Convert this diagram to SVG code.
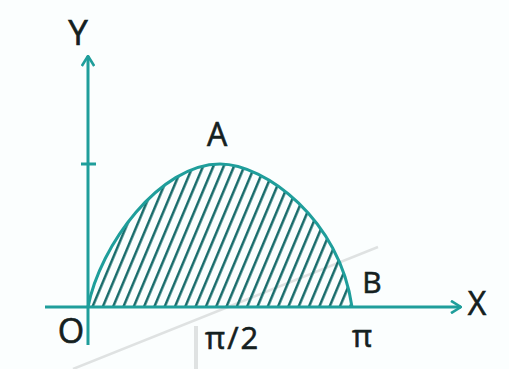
<svg xmlns="http://www.w3.org/2000/svg" width="509" height="369" viewBox="0 0 509 369">
<style>
.axis{stroke:#1f9e9b;stroke-width:3;fill:none}
.curve{stroke:#1f9e9b;stroke-width:3;fill:none}
.lbl{font-family:"Open Sans","Liberation Sans",sans-serif;fill:#142020;stroke:#142020;stroke-width:0.6}
.wm{stroke:#dfe2e2;fill:none}
</style>
<defs>
<pattern id="hatch" patternUnits="userSpaceOnUse" width="9.5" height="20" patternTransform="translate(91,307) rotate(22.8)">
<line x1="1.3" y1="-1" x2="1.3" y2="21" stroke="#0d6564" stroke-width="2.4"/>
</pattern>
<marker id="arr" viewBox="0 0 12 14" refX="11" refY="7" markerWidth="12" markerHeight="14" markerUnits="userSpaceOnUse" orient="auto">
<path d="M1,0.8 L11,7 L1,13.2" stroke="#1f9e9b" stroke-width="2.6" fill="none" stroke-linejoin="round"/>
</marker>
</defs>
<rect width="509" height="369" fill="#fbfefe"/>
<g id="watermark">
<line class="wm" x1="73" y1="369" x2="378" y2="247" stroke-width="2.5"/>
<line class="wm" x1="196" y1="326" x2="196" y2="369" stroke-width="4"/>
</g>
<g id="region">
<path d="M88,307 C100,245 160,164 220,164 C265,164 340,220 352,307 Z" fill="url(#hatch)"/>
<path class="curve" d="M88,307 C100,245 160,164 220,164 C265,164 340,220 352,307"/>
</g>
<g id="connectors">
<line id="y-axis" class="axis" x1="88" y1="345" x2="88" y2="56" marker-end="url(#arr)"/>
<line id="x-axis" class="axis" x1="45" y1="307" x2="461" y2="307" marker-end="url(#arr)"/>
<line id="y-tick" class="axis" x1="81" y1="164" x2="96" y2="164" stroke-width="2.5"/>
</g>
<g id="labels">
<text class="lbl" x="78" y="45" font-size="35" text-anchor="middle">Y</text>
<text class="lbl" x="217" y="146" font-size="32" text-anchor="middle">A</text>
<text class="lbl" x="372" y="293" font-size="30" text-anchor="middle">B</text>
<text class="lbl" x="477" y="315" font-size="32" text-anchor="middle">X</text>
<text class="lbl" x="71" y="343" font-size="34" text-anchor="middle">O</text>
<text class="lbl" x="205" y="349" font-size="31" letter-spacing="2">π/2</text>
<text class="lbl" x="352" y="347" font-size="31">π</text>
</g>
</svg>
